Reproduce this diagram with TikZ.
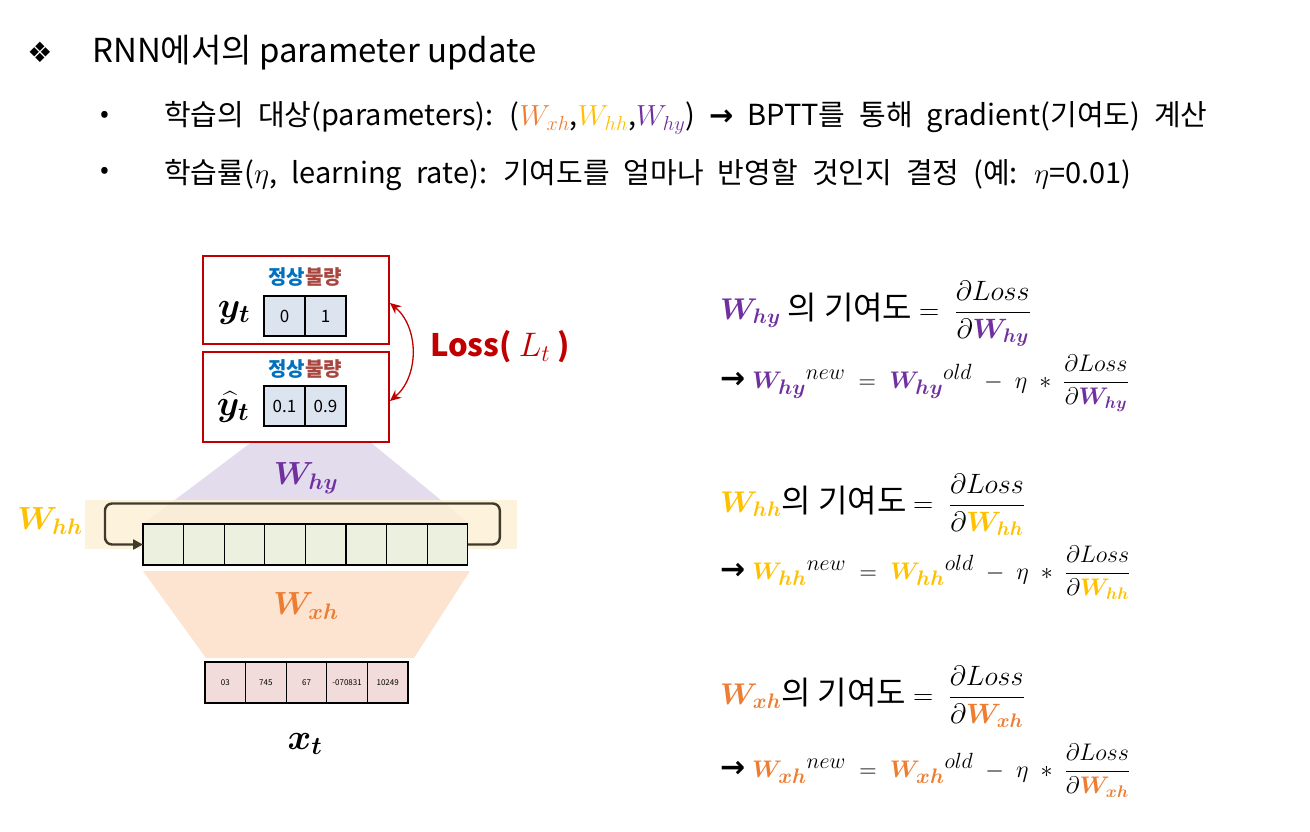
\RequirePackage{fix-cm}
\documentclass[tikz,border=0pt]{standalone}
\usepackage{amsmath}
\usepackage{bm}
\usepackage{fontspec}
\setmainfont{Noto Sans CJK KR}
\newfontfamily\symfont{DejaVu Sans}
\usetikzlibrary{arrows.meta,calc,positioning}
\usepackage{xcolor}

\definecolor{cpurple}{HTML}{7030A0}
\definecolor{cyellow}{HTML}{FFC000}
\definecolor{corange}{HTML}{ED7D31}
\definecolor{lossred}{HTML}{C00000}
\definecolor{normblue}{HTML}{0070C0}
\definecolor{badred}{HTML}{A9463F}
\definecolor{hyfill}{HTML}{E3DCEC}
\definecolor{xhfill}{HTML}{FDE4D0}
\definecolor{hhfill}{HTML}{FDF0D5}
\definecolor{hcellfill}{HTML}{EBF1DE}
\definecolor{ycellfill}{HTML}{DCE4EF}
\definecolor{xcellfill}{HTML}{F2DCDB}
\definecolor{loopcol}{HTML}{3F3A2A}

\newcommand{\fs}[1]{\fontsize{#1}{#1}\selectfont}
\newcommand{\widesp}{\spaceskip=14pt\relax}
\newcommand{\whyb}{{\color{cpurple}\bm{W_{hy}}}}
\newcommand{\whhb}{{\color{cyellow}\bm{W_{hh}}}}
\newcommand{\wxhb}{{\color{corange}\bm{W_{xh}}}}
\newcommand{\supr}[1]{^{\mbox{\fs{22}$#1$}}}
\newcommand{\kr}[1]{{\fs{32}#1}}
\newcommand{\okbad}{\textbf{\textcolor{normblue}{정상}\textcolor{badred}{불량}}}

\tikzset{
  outbox/.style={draw=lossred, line width=2pt, fill=white, minimum width=186pt, minimum height=88pt, inner sep=0pt},
  ycell/.style={draw=black, line width=1.2pt, fill=ycellfill, minimum width=41pt, minimum height=40pt, inner sep=0pt, outer sep=0pt, font=\fs{17}},
  hcell/.style={draw=black, line width=1.1pt, fill=hcellfill, minimum width=40.6pt, minimum height=41pt, inner sep=0pt, outer sep=0pt},
  xcell/.style={draw=black, line width=1.2pt, fill=xcellfill, minimum width=40.6pt, minimum height=41pt, inner sep=0pt, outer sep=0pt, font=\fs{8}},
  wlabel/.style={inner sep=0pt, font=\fs{32}},
  bigvar/.style={inner sep=0pt, font=\fs{36}},
  classlab/.style={inner sep=1pt, font=\fs{20}},
  linetext/.style={anchor=base west, inner sep=0pt, font=\fs{29}\widesp},
  eqtext/.style={anchor=base west, inner sep=0pt, font=\fs{30}},
}

\begin{document}
\begin{tikzpicture}[x=1pt,y=-1pt]
\useasboundingbox (0,0) rectangle (1310,832);

% heading and bullets
\node[font=\symfont\fs{28}] (star) at (40,52) {❖};
\node[linetext, font=\fs{33}] (title) at (92,63) {RNN에서의 parameter update};
\node[font=\fs{26}] (b1) at (105,117) {•};
\node[linetext] (line1) at (164,126) {학습의 대상(parameters): ($\color{corange}W_{xh}$,$\color{cyellow}W_{hh}$,$\color{cpurple}W_{hy}$) {\symfont\bfseries →} BPTT를 통해 gradient(기여도) 계산};
\node[font=\fs{26}] (b2) at (105,173) {•};
\node[linetext] (line2) at (164,183) {학습률($\eta$, learning rate): 기여도를 얼마나 반영할 것인지 결정 (예: $\eta$=0.01)};

% weight regions
\fill[hyfill] (265,432) -- (358,432) -- (470,524) -- (143,524) -- cycle;
\fill[hhfill, opacity=0.85] (85,500) rectangle (517,549);
\fill[xhfill] (143,571) -- (470,571) -- (414,658) -- (206,658) -- cycle;

% output boxes
\node[outbox] (ybox) at (296,300) {};
\node[outbox, minimum height=90pt] (yhbox) at (296,397) {};
\node[classlab] (ylab) at (305,277) {\okbad};
\node[classlab] (yhlab) at (305,369) {\okbad};
\node[ycell] (y0) at (284.5,316) {0};
\node[ycell, right=0pt of y0] (y1) {1};
\node[ycell] (yh0) at (284.5,406) {0.1};
\node[ycell, right=0pt of yh0] (yh1) {0.9};
\node[bigvar] (yt) at (234,313) {$\bm{y_t}$};
\node[bigvar] (yht) at (233,407) {$\bm{\widehat{y}_t}$};

% loss
\draw[lossred, line width=1.3pt, {Stealth[length=11pt,width=10pt]}-{Stealth[length=11pt,width=10pt]}]
  ([yshift=-3pt]ybox.east) to[bend left=50] ([yshift=-4pt]yhbox.east);
\node[text=lossred, font=\fs{31}\bfseries] (loss) at (500,347) {Loss( {\fs{34}$L_t$} )};

% hidden layer
\foreach \i in {1,...,8}
  \node[hcell] (h\i) at (122.7+40.6*\i,544.5) {};
\draw[loopcol, line width=2.4pt, rounded corners=7pt, -{Triangle[length=10pt,width=10pt]}]
  (h8.east) -- ++(32,0) -- ++(0,-41) -- ($(h1.west)+(-38,-41)$) -- ($(h1.west)+(-38,0)$) -- (h1.west);

% input layer
\foreach \v [count=\i] in {03,745,67,-070831,10249}
  \node[xcell] (x\i) at (184.7+40.6*\i,682.5) {\v};
\node[bigvar] (xt) at (305,744) {$\bm{x_t}$};

% weight labels
\node[wlabel] (lhy) at (306,478) {$\whyb$};
\node[wlabel] (lhh) at (50,521) {$\whhb$};
\node[wlabel] (lxh) at (306,606) {$\wxhb$};

% update rules
\node[eqtext] (e1) at (720,319) {$\whyb$ \kr{의 기여도} $=\;{\fs{28}\dfrac{\partial Loss}{\partial\whyb}}$};
\node[eqtext] (e1n) at (720,388) {{\symfont\bfseries →} $\whyb\supr{new}\;=\;\whyb\supr{old}\;-\;\eta\;*\;{\fs{24}\dfrac{\partial Loss}{\partial\whyb}}$};
\node[eqtext] (e2) at (720,512) {$\whhb$\kr{의 기여도} $=\;{\fs{28}\dfrac{\partial Loss}{\partial\whhb}}$};
\node[eqtext] (e2n) at (720,579) {{\symfont\bfseries →} $\whhb\supr{new}\;=\;\whhb\supr{old}\;-\;\eta\;*\;{\fs{24}\dfrac{\partial Loss}{\partial\whhb}}$};
\node[eqtext] (e3) at (720,704) {$\wxhb$\kr{의 기여도} $=\;{\fs{28}\dfrac{\partial Loss}{\partial\wxhb}}$};
\node[eqtext] (e3n) at (720,777) {{\symfont\bfseries →} $\wxhb\supr{new}\;=\;\wxhb\supr{old}\;-\;\eta\;*\;{\fs{24}\dfrac{\partial Loss}{\partial\wxhb}}$};
\end{tikzpicture}
\end{document}
